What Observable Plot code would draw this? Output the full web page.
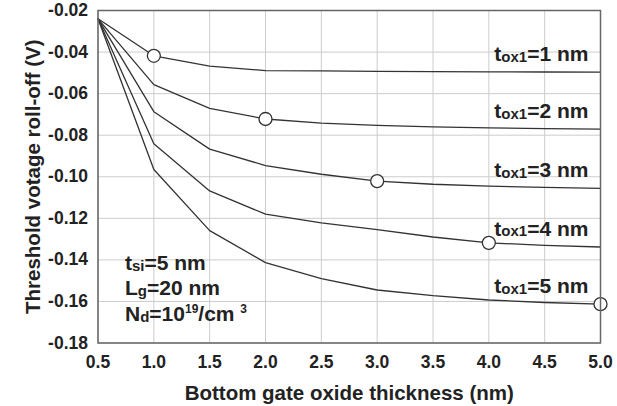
<!DOCTYPE html>
<html><head><meta charset="utf-8">
<script src="https://cdn.jsdelivr.net/npm/d3@7"></script>
<script src="https://cdn.jsdelivr.net/npm/@observablehq/plot@0.6"></script>
<style>body{margin:0;background:#fff}</style>
</head><body><div id="chart"></div>
<script>
const thickness = [0.5, 1.0, 1.5, 2.0, 2.5, 3.0, 3.5, 4.0, 4.5, 5.0];
const tox1 = [1, 2, 3, 4, 5];
const roll1 = [-0.024, -0.0418, -0.0468, -0.0489, -0.0491, -0.0493, -0.0494, -0.0495, -0.0496, -0.0497];
const roll2 = [-0.024, -0.0557, -0.0671, -0.0722, -0.0742, -0.0753, -0.0760, -0.0765, -0.0768, -0.0771];
const roll3 = [-0.024, -0.0687, -0.0867, -0.0946, -0.0988, -0.1021, -0.1036, -0.1045, -0.1051, -0.1056];
const roll4 = [-0.024, -0.0841, -0.1068, -0.1180, -0.1222, -0.1254, -0.1290, -0.1318, -0.1330, -0.1338];
const roll5 = [-0.024, -0.0965, -0.1259, -0.1413, -0.1490, -0.1545, -0.1572, -0.1593, -0.1605, -0.1613];
const markerAt = [1.0, 2.0, 3.0, 4.0, 5.0];
const xTicks = [0.5, 1.0, 1.5, 2.0, 2.5, 3.0, 3.5, 4.0, 4.5, 5.0];
const yTicks = [-0.18, -0.16, -0.14, -0.12, -0.10, -0.08, -0.06, -0.04, -0.02];
const xTitle = "Bottom gate oxide thickness (nm)";
const yTitle = "Threshold votage roll-off (V)";
const notes = ["t{si}=5 nm", "L{g}=20 nm", "N{d}=10^{19}/cm ^{3}"];

const series = [roll1, roll2, roll3, roll4, roll5];
const rows = series.flatMap((s, i) => s.map((v, j) => ({x: thickness[j], y: v, k: tox1[i]})));
const markers = series.map((s, i) => ({x: markerAt[i], y: s[thickness.indexOf(markerAt[i])]}));
const labels = series.map((s, i) => ({x: thickness[thickness.length - 1], y: s[s.length - 1], t: `t{ox1}=${tox1[i]} nm`}));
const noteOffsets = [-73, -48, -22];

const ink = "#222";
const noteMarks = notes.map((t, i) =>
  Plot.text([t], {frameAnchor: "bottom-left", text: d => d, textAnchor: "start", lineAnchor: "bottom",
    dx: 27, dy: noteOffsets[i], fontSize: 21, fill: ink}));

const chart = Plot.plot({
  width: 617, height: 406,
  marginLeft: 97.5, marginRight: 17, marginTop: 10, marginBottom: 63.5,
  style: {fontFamily: "'Liberation Sans', Arial, sans-serif", fontWeight: "bold", fontSize: "17.5px", color: ink, background: "#fff"},
  x: {domain: [0.5, 5.0], ticks: xTicks, tickFormat: d => d.toFixed(1), tickSize: 0, tickPadding: 13, label: null},
  y: {domain: [-0.18, -0.02], ticks: yTicks, tickFormat: d => d.toFixed(2), tickSize: 0, tickPadding: 10, label: null},
  marks: [
    Plot.tickX(xTicks, {x: d => d, y1: -0.18, y2: -0.1785, stroke: "#ccc"}),
    Plot.tickY(yTicks, {y: d => d, x1: 0.5, x2: 0.54, stroke: "#ccc"}),
    Plot.line(rows, {x: "x", y: "y", z: "k", stroke: "#333", strokeWidth: 1.3}),
    Plot.dot(markers, {x: "x", y: "y", r: 6.5, fill: "white", stroke: "#333", strokeWidth: 1.3}),
    Plot.frame({stroke: "#666", strokeWidth: 1.5}),
    Plot.text(labels, {x: "x", y: "y", text: "t", textAnchor: "end", lineAnchor: "bottom", dx: -12, dy: -11, fontSize: 21, fill: ink}),
    ...noteMarks,
    Plot.text([xTitle], {frameAnchor: "bottom", text: d => d, textAnchor: "middle", lineAnchor: "middle", dy: 50, fontSize: 20.5, fill: ink}),
    Plot.text([yTitle], {frameAnchor: "left", text: d => d, textAnchor: "middle", rotate: -90, lineAnchor: "middle", dx: -64.5, fontSize: 20.5, fill: ink})
  ]
});
document.getElementById("chart").appendChild(chart);

// Render sub/superscripts as tspans
const NS = "http://www.w3.org/2000/svg";
chart.querySelectorAll("text").forEach(el => {
  const s = el.textContent;
  if (!/[{]/.test(s) || el.querySelector("tspan")) return;
  const parts = s.split(/(\^\{[^}]*\}|\{[^}]*\})/).filter(p => p !== "");
  el.textContent = "";
  let shift = 0;
  parts.forEach(p => {
    const ts = document.createElementNS(NS, "tspan");
    let target = 0, txt = p, size = null;
    if (p.startsWith("^{")) { txt = p.slice(2, -1); target = -8; size = "12px"; }
    else if (p.startsWith("{")) { txt = p.slice(1, -1); target = 0.5; size = "15px"; }
    ts.textContent = txt;
    if (size) ts.setAttribute("font-size", size);
    const d = target - shift;
    if (d !== 0) ts.setAttribute("dy", d);
    shift = target;
    el.appendChild(ts);
  });
});
</script>
</body></html>
